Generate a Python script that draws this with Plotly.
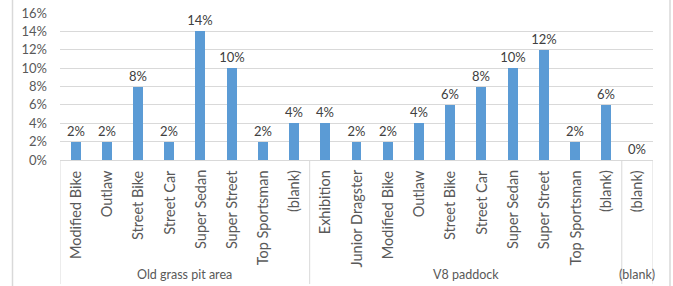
import plotly.graph_objects as go

groups = ["Old grass pit area", "V8 paddock", "(blank)"]
categories = [
    ["Modified Bike", "Outlaw", "Street Bike", "Street Car", "Super Sedan",
     "Super Street", "Top Sportsman", "(blank)"],
    ["Exhibition", "Junior Dragster", "Modified Bike", "Outlaw", "Street Bike",
     "Street Car", "Super Sedan", "Super Street", "Top Sportsman", "(blank)"],
    ["(blank)"],
]
values = [
    [0.02, 0.02, 0.08, 0.02, 0.14, 0.10, 0.02, 0.04],
    [0.04, 0.02, 0.02, 0.04, 0.06, 0.08, 0.10, 0.12, 0.02, 0.06],
    [0.00],
]
y_ticks = [0, 0.02, 0.04, 0.06, 0.08, 0.10, 0.12, 0.14, 0.16]

FONT = "Lato, Calibri, sans-serif"
TXT = "#595959"

flat_labels, flat_vals = [], []
for cats, vals in zip(categories, values):
    flat_labels += cats
    flat_vals += vals
xs = list(range(len(flat_labels)))

fig = go.Figure(go.Bar(
    x=xs, y=flat_vals, width=0.32,
    marker=dict(color="#5B9BD5", line=dict(width=0)),
    text=[f"{v*100:.0f}%" for v in flat_vals],
    textposition="outside",
    constraintext="none",
    textfont=dict(family=FONT, size=13, color="#404040"),
    cliponaxis=False,
    hoverinfo="skip",
))

annotations = []
shapes = []
BOT = -0.844
for i, lab in enumerate(flat_labels):
    annotations.append(dict(x=i, y=-0.054, xref="x", yref="paper", text=lab,
                            textangle=-90, xanchor="center", yanchor="top",
                            showarrow=False,
                            font=dict(family=FONT, size=14.5, color=TXT)))
start = 0
bounds = [-0.5]
for g, cats in zip(groups, categories):
    end = start + len(cats) - 1
    annotations.append(dict(x=(start + end) / 2, y=-0.776, xref="x", yref="paper",
                            text=g, xanchor="center", yanchor="middle",
                            showarrow=False,
                            font=dict(family=FONT, size=12.5, color=TXT)))
    bounds.append(end + 0.5)
    start = end + 1
for b in bounds:
    shapes.append(dict(type="line", xref="x", yref="paper", x0=b, x1=b,
                       y0=0, y1=BOT, line=dict(color="#D9D9D9", width=1)))
for px in [(12.5 - 60) / 593, (670 - 60) / 593]:
    shapes.append(dict(type="line", xref="paper", yref="paper", x0=px, x1=px,
                       y0=(160 - 0) / 147, y1=(160 - 286) / 147,
                       line=dict(color="#D9D9D9", width=1.5)))

fig.update_layout(
    width=673, height=286,
    margin=dict(l=60, r=20, t=13, b=126, autoexpand=False),
    paper_bgcolor="white", plot_bgcolor="white",
    showlegend=False,
    bargap=0,
    annotations=annotations,
    shapes=shapes,
    xaxis=dict(range=[-0.5, len(xs) - 0.5], showticklabels=False, showgrid=False,
               zeroline=False, showline=True, linecolor="#D9D9D9", linewidth=1,
               ticks="", automargin=False),
    yaxis=dict(range=[0, 0.16], tickvals=y_ticks, tickformat=".0%",
               showgrid=True, gridcolor="#D9D9D9", gridwidth=1, zeroline=False,
               showline=False, ticks="", ticklabelstandoff=12, automargin=False,
               tickfont=dict(family=FONT, size=13, color=TXT)),
)

fig.write_html("out.html",
               config={"displayModeBar": False},
               post_script="document.body.style.margin='0';document.body.style.overflow='hidden';")
